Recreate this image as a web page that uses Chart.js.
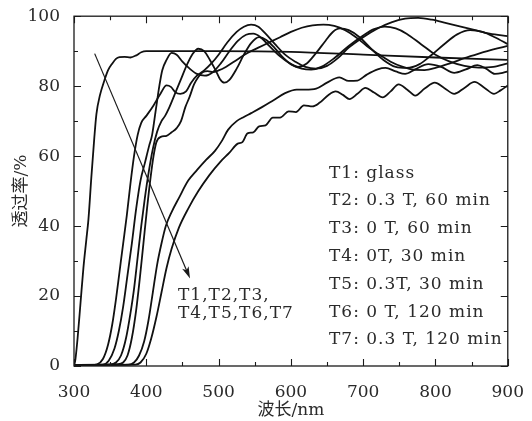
<!DOCTYPE html>
<html>
<head>
<meta charset="utf-8">
<script src="https://cdn.jsdelivr.net/npm/chart.js@4/dist/chart.umd.min.js"></script>
<style>
  html, body { margin: 0; padding: 0; background: #fff; }
  canvas { display: block; }
</style>
</head>
<body>
<canvas id="c" width="532" height="421"></canvas>
<script>
// transmittance spectra, [wavelength nm, T %]
const T1 = [[300,0],[302,2],[305,8],[309,18],[313,28],[317,36],[320,42],[324,54],[328,65],[331,72],[336,77.5],[342,81.6],[347,84.5],[353,86.5],[358,87.8],[363,88.3],[370,88.4],[378,88.2],[386,88.8],[393,89.7],[400,90],[500,90],[600,89.8],[700,89],[800,88.2],[900,87.5]];
const T_knee = [[300,0.3],[320,0.2],[332,0.5],[340,2],[347,6],[353,12],[358,19],[363,27],[368,35],[373,43],[378,52],[383,60],[388,66],[393,69.5],[400,71.5],[410,74.5],[420,78],[428,80.2],[434,79.8],[440,78.3],[447,77.8],[455,78.5],[462,81],[470,83],[480,84.5],[490,86.5],[500,89],[512,92.5],[525,95.5],[535,97],[545,97.6],[555,97],[565,95],[578,92],[592,89],[606,87],[620,85.5],[635,85],[650,85.8],[665,88],[680,91],[700,94],[720,96.5],[740,98.3],[758,99.3],[776,99.5],[795,99],[815,98],[835,97],[855,96],[875,95],[900,94.3]];
const T_peak435 = [[300,0.3],[340,0.4],[348,1.5],[356,5],[362,10],[368,17],[374,26],[380,35],[386,45],[392,53],[398,58],[404,63],[408,66],[413,73],[418,80],[422,84.5],[428,87.5],[435,89.5],[442,89],[450,87],[460,85],[470,83.5],[481,83],[492,84],[503,86.5],[515,90],[527,93],[538,94.7],[548,95],[558,94],[570,91.5],[585,88.5],[600,86.3],[615,85],[628,84.7],[642,85.5],[660,88],[680,91.5],[700,94.5],[715,96.3],[730,97],[745,96.5],[760,95],[780,92],[800,89],[820,87],[840,85.8],[860,85.3],[880,85.5],[900,86.5]];
const T_peak472 = [[300,0.3],[350,0.4],[358,1],[365,3],[372,8],[378,15],[383,22],[388,31],[393,40],[398,48],[403,55],[409,62],[415,67],[421,70],[426,71.5],[432,74],[440,78],[448,82],[456,86],[464,89.2],[472,90.7],[480,90],[488,87.5],[496,84.5],[502,82],[508,81],[515,81.8],[525,85],[535,89],[545,92.3],[556,94],[566,93.2],[578,90.8],[590,88],[600,86.3],[610,85.5],[622,86.5],[635,89.5],[648,93],[658,95.5],[668,96.5],[680,96],[695,94],[712,90.5],[728,87.5],[745,85.5],[760,85.2],[778,86.3],[795,89],[812,92],[830,94.8],[848,96],[865,95.5],[882,94],[900,92]];
const T_shelf = [[300,0.3],[360,0.5],[368,1],[374,3],[380,8],[386,16],[391,25],[396,35],[401,45],[406,54],[410,60],[414,64],[420,65.5],[428,65.8],[435,66.8],[442,68],[448,70],[454,74],[460,77],[466,80.5],[472,82.6],[478,84],[485,84.3],[492,84],[500,84.5],[510,85.5],[525,87.5],[540,89.5],[555,91],[570,92.5],[585,94],[600,95.5],[615,96.7],[630,97.4],[645,97.6],[660,97.2],[675,96],[690,94],[705,91.5],[720,89.3],[738,87],[755,85.5],[770,84.7],[785,84.6],[800,85.2],[820,86.5],[840,88],[860,89.3],[880,90.5],[900,91.5]];
const T_wavy1 = [[300,0.3],[375,0.4],[383,1],[390,3],[397,7],[403,13],[409,21],[415,29],[421,35],[427,40],[435,44],[445,48],[458,53],[470,56],[483,59],[495,61.5],[505,64.5],[513,67.5],[525,70],[535,71.2],[545,72.3],[560,74],[576,76],[592,78],[608,79],[620,79],[635,79.3],[650,81],[667,82.5],[680,81.5],[692,81.6],[705,83.3],[720,84.8],[731,85.2],[745,84.2],[758,83.5],[772,84.8],[790,86.3],[808,85.5],[826,83.8],[842,84.8],[858,86],[870,85],[882,83.5],[893,83.8],[900,84.2]];
const T_wavy2 = [[300,0.3],[385,0.4],[392,1],[400,3.5],[407,8],[414,14],[421,21],[428,28],[435,33.5],[445,39.5],[458,45],[472,50],[487,54.5],[503,58.5],[515,61],[526,63.5],[533,64],[540,66.5],[548,66.8],[556,68.5],[565,68.8],[575,71],[585,71],[597,72.8],[607,72.6],[618,74.5],[630,74.2],[640,75.3],[652,77.5],[662,78.5],[672,77.5],[681,76.3],[692,77.8],[703,79.5],[715,78.2],[727,76.8],[738,78.5],[749,80.5],[761,79],[772,77.3],[785,79.3],[799,81],[812,79.5],[826,77.8],[840,79.5],[854,81.2],[868,79.5],[881,77.8],[890,78.8],[900,80.2]];

const curves = [T1, T_knee, T_peak435, T_peak472, T_shelf, T_wavy1, T_wavy2];

const legendLines = ['T1: glass', 'T2: 0.3 T, 60 min', 'T3: 0 T, 60 min', 'T4: 0T, 30 min',
  'T5: 0.3T, 30 min', 'T6: 0 T, 120 min', 'T7: 0.3 T, 120 min'];
const arrowNote = ['T1,T2,T3,', 'T4,T5,T6,T7'];
const arrowFrom = [328.6, 89.3];
const arrowTo = [460.5, 25];

const SERIF = "'DejaVu Serif', 'Noto Sans CJK SC', serif";
const INK = '#1a1a1a';

const decor = {
  id: 'decor',
  afterDatasetsDraw(chart) {
    const { ctx, chartArea: a, scales: { x, y } } = chart;
    ctx.save();
    ctx.strokeStyle = INK;
    ctx.lineWidth = 1.3;
    ctx.strokeRect(a.left, a.top, a.right - a.left, a.bottom - a.top);

    // inward ticks on all four sides
    ctx.lineWidth = 1.1;
    ctx.beginPath();
    x.ticks.forEach(t => {
      const p = Math.round(x.getPixelForValue(t.value)) + 0.5;
      const len = t.value % 100 === 0 ? 7 : 4;
      ctx.moveTo(p, a.bottom); ctx.lineTo(p, a.bottom - len);
      ctx.moveTo(p, a.top); ctx.lineTo(p, a.top + len);
    });
    y.ticks.forEach(t => {
      const p = Math.round(y.getPixelForValue(t.value)) + 0.5;
      const len = t.value % 20 === 0 ? 7 : 4;
      ctx.moveTo(a.left, p); ctx.lineTo(a.left + len, p);
      ctx.moveTo(a.right, p); ctx.lineTo(a.right - len, p);
    });
    ctx.stroke();

    // arrow
    const x0 = x.getPixelForValue(arrowFrom[0]), y0 = y.getPixelForValue(arrowFrom[1]);
    const x1 = x.getPixelForValue(arrowTo[0]), y1 = y.getPixelForValue(arrowTo[1]);
    const ang = Math.atan2(y1 - y0, x1 - x0);
    ctx.lineWidth = 1.2;
    ctx.beginPath();
    ctx.moveTo(x0, y0);
    ctx.lineTo(x1 - 8 * Math.cos(ang), y1 - 8 * Math.sin(ang));
    ctx.stroke();
    ctx.fillStyle = INK;
    ctx.beginPath();
    ctx.moveTo(x1, y1);
    ctx.lineTo(x1 - 12 * Math.cos(ang) + 3.5 * Math.sin(ang), y1 - 12 * Math.sin(ang) - 3.5 * Math.cos(ang));
    ctx.lineTo(x1 - 9 * Math.cos(ang), y1 - 9 * Math.sin(ang));
    ctx.lineTo(x1 - 12 * Math.cos(ang) - 3.5 * Math.sin(ang), y1 - 12 * Math.sin(ang) + 3.5 * Math.cos(ang));
    ctx.closePath();
    ctx.fill();

    // texts
    ctx.font = '17px ' + SERIF;
    ctx.letterSpacing = '1px';
    ctx.fillStyle = '#2a2a2a';
    ctx.textAlign = 'left';
    ctx.textBaseline = 'middle';
    arrowNote.forEach((s, i) => ctx.fillText(s, a.left + 104, a.top + 279 + i * 18));
    legendLines.forEach((s, i) => ctx.fillText(s, a.left + 255, a.top + 157 + i * 27.8));
    ctx.restore();
  }
};

new Chart(document.getElementById('c'), {
  type: 'line',
  data: {
    datasets: curves.map(c => ({
      data: c.map(p => ({ x: p[0], y: p[1] })),
      borderColor: '#111',
      borderWidth: 1.8,
      pointRadius: 0,
      cubicInterpolationMode: 'monotone',
      fill: false
    }))
  },
  options: {
    responsive: false,
    animation: false,
    devicePixelRatio: 1,
    layout: { padding: { left: 0, right: 18, top: 16, bottom: 0 } },
    plugins: { legend: { display: false }, tooltip: { enabled: false } },
    scales: {
      x: {
        type: 'linear', min: 300, max: 900,
        grid: { display: false },
        border: { display: false },
        ticks: {
          stepSize: 50, padding: 8, color: '#2a2a2a',
          font: { family: SERIF, size: 17 },
          maxRotation: 0, autoSkip: false,
          callback: v => (v % 100 === 0 ? v : '')
        },
        title: { display: true, text: '波长/nm', color: '#2a2a2a', font: { family: SERIF, size: 17 }, padding: { top: 0, bottom: 0 } },
        afterFit: s => { s.height = 55; }
      },
      y: {
        type: 'linear', min: 0, max: 100,
        grid: { display: false },
        border: { display: false },
        ticks: {
          stepSize: 10, padding: 6, color: '#2a2a2a',
          font: { family: SERIF, size: 17 },
          autoSkip: false,
          callback: v => (v % 20 === 0 ? v : '')
        },
        title: { display: true, text: '透过率/%', color: '#2a2a2a', font: { family: SERIF, size: 17 }, padding: { top: 11, bottom: 0 } },
        afterFit: s => { s.width = 74; }
      }
    }
  },
  plugins: [decor]
});
</script>
</body>
</html>
